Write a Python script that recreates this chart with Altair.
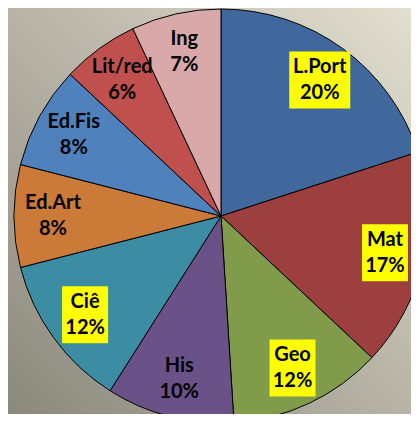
import altair as alt
import pandas as pd

names = ["L.Port", "Mat", "Geo", "His", "Ciê", "Ed.Art", "Ed.Fis", "Lit/red", "Ing"]
values = [20, 17, 12, 10, 12, 8, 8, 6, 7]
colors = ["#41689c", "#9d3f3e", "#809b49", "#6a5289", "#3c8da4", "#cc7a37", "#4f81bd", "#c0504d", "#d9a8a9"]
highlight = [True, True, True, False, True, False, False, False, False]

W, H = 403, 406
CX, CY, R, LR = 213, 208, 207, 168

df = pd.DataFrame({"idx": list(range(len(names))), "name": names, "value": values,
                   "hl": highlight})

base = alt.Chart(df).transform_window(
    cum="sum(value)", sort=[{"field": "idx"}], frame=[None, 0]
).transform_calculate(
    mid="(datum.cum - datum.value/2) / 100 * 2 * PI",
    lx=f"{CX} + {LR} * sin(datum.mid)",
    ly=f"{CY} - {LR} * cos(datum.mid)",
    label="datum.name + '\\n' + datum.value + '%'",
    bw="31 + 5 * max(length(datum.name), length(datum.value + '%'))",
    bx1="datum.lx - datum.bw/2",
    bx2="datum.lx + datum.bw/2",
    by1="datum.ly - 28.5",
    by2="datum.ly + 28.5",
)

bg = alt.Chart(alt.Data(values=[{}])).mark_rect(
    color=alt.Gradient(
        gradient="linear",
        stops=[alt.GradientStop(color="#e2dfcf", offset=0),
               alt.GradientStop(color="#b7b4a7", offset=0.5),
               alt.GradientStop(color="#8b887c", offset=1)],
        x1=1, y1=0, x2=0, y2=1,
    )
).encode(x=alt.value(0), x2=alt.value(W), y=alt.value(0), y2=alt.value(H))

pie = alt.Chart(df).mark_arc(radius=R, stroke="black", strokeWidth=1).encode(
    theta=alt.Theta("value:Q", stack=True),
    order=alt.Order("idx:Q"),
    color=alt.Color("name:N", scale=alt.Scale(domain=names, range=colors), legend=None),
    x=alt.value(CX), y=alt.value(CY),
)

boxes = base.transform_filter("datum.hl").mark_rect(color="#ffff00").encode(
    x=alt.X("bx1:Q", scale=None, axis=None), x2="bx2:Q",
    y=alt.Y("by1:Q", scale=None, axis=None), y2="by2:Q",
)

texts = base.mark_text(
    font="Lato", fontWeight="bold", fontSize=20, lineBreak="\n", lineHeight=26,
    align="center", baseline="middle", color="black", dy=-13,
).encode(
    x=alt.X("lx:Q", scale=None, axis=None),
    y=alt.Y("ly:Q", scale=None, axis=None),
    text="label:N",
)

chart = alt.layer(bg, pie, boxes, texts).properties(
    width=W, height=H, padding=0,
    autosize=alt.AutoSizeParams(type="none"),
).configure_view(strokeWidth=0)

chart.save("out.html", embed_options={"renderer": "svg", "actions": False})
